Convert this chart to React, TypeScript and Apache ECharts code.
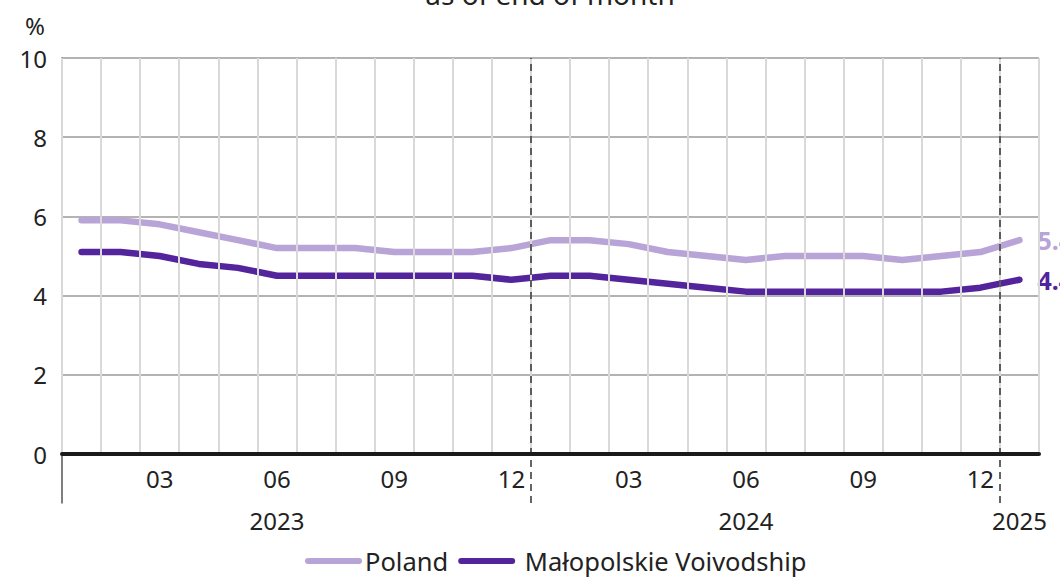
import React, { useEffect, useRef } from "react";
import * as echarts from "echarts";

const years = ["2023","2023","2023","2023","2023","2023","2023","2023","2023","2023","2023","2023","2024","2024","2024","2024","2024","2024","2024","2024","2024","2024","2024","2024","2025"];
const months = ["01","02","03","04","05","06","07","08","09","10","11","12","01","02","03","04","05","06","07","08","09","10","11","12","01"];
const poland = [5.9, 5.9, 5.8, 5.6, 5.4, 5.2, 5.2, 5.2, 5.1, 5.1, 5.1, 5.2, 5.4, 5.4, 5.3, 5.1, 5.0, 4.9, 5.0, 5.0, 5.0, 4.9, 5.0, 5.1, 5.4];
const malopolska = [5.1, 5.1, 5.0, 4.8, 4.7, 4.5, 4.5, 4.5, 4.5, 4.5, 4.5, 4.4, 4.5, 4.5, 4.4, 4.3, 4.2, 4.1, 4.1, 4.1, 4.1, 4.1, 4.1, 4.2, 4.4];
const seriesNames = ["Poland", "Małopolskie Voivodship"];
const yTicks = { min: 0, max: 10, interval: 2 };
const titleText = "as of end of month";
const unitText = "%";

const FONT = "Noto Sans";
const C_POL = "#b8a4d6";
const C_MAL = "#53249b";

export default function App() {
  const ref = useRef<HTMLDivElement>(null);
  useEffect(() => {
    if (!ref.current) return;
    const chart = echarts.init(ref.current, null, { renderer: "svg" });
    const cats = months.map((m, i) => years[i] + "-" + m);
    // year label placed at June of each year, or the only month of a partial year
    const yearLabels = years.map((y, i) => {
      const idxs = years.map((yy, j) => (yy === y ? j : -1)).filter((j) => j >= 0);
      const pos = idxs.length >= 6 ? idxs[5] : idxs[0];
      return pos === i ? y : "";
    });
    const boundaries: number[] = [];
    for (let i = 1; i < years.length; i++) if (years[i] !== years[i - 1]) boundaries.push(i);

    const icon = "path://M3,0 H54 A3,3 0 0 1 54,6 H3 A3,3 0 0 1 3,0 Z";
    const endLabel = (color: string) => ({
      show: true,
      formatter: (p: any) => Number(p.value).toFixed(1),
      color,
      fontWeight: "bold",
      fontSize: 25,
      fontFamily: FONT,
      distance: 18,
    });

    chart.setOption({
      animation: false,
      textStyle: { fontFamily: FONT },
      graphic: [
        { type: "text", x: 550, y: -6, style: { text: titleText, fontSize: 28, fontFamily: FONT, fill: "#222", textAlign: "center", textVerticalAlign: "middle" } },
        { type: "text", x: 35, y: 25, style: { text: unitText, fontSize: 24, fontFamily: FONT, fill: "#222", textAlign: "center", textVerticalAlign: "middle" } },
      ],
      legend: {
        data: seriesNames,
        left: 305,
        top: 548,
        padding: 0,
        itemWidth: 57,
        itemHeight: 7,
        itemGap: 10,
        icon,
        formatter: (name: string) => (name === seriesNames[0] ? name : " " + name),
        textStyle: { fontSize: 25.5, color: "#222", fontFamily: FONT, padding: [0, 0, 0, -2] },
      },
      grid: [
        { left: 62, right: 21, top: 58, bottom: 124 },
        { left: 62, right: 21, top: 58, bottom: 75 },
      ],
      xAxis: [
        {
          type: "category",
          gridIndex: 0,
          data: cats,
          boundaryGap: true,
          axisLine: { lineStyle: { color: "#1a1a1a", width: 4 } },
          axisTick: { show: false },
          axisLabel: {
            interval: (i: number) => i % 3 === 2 && i < cats.length - 1,
            formatter: (v: string) => v.slice(5),
            fontSize: 24,
            color: "#222",
            margin: 12,
            fontFamily: FONT,
          },
          splitLine: { show: true, interval: 0, lineStyle: { color: "#d9d9d9", width: 2 } },
          z: 5,
        },
        {
          type: "category",
          gridIndex: 0,
          data: yearLabels,
          position: "bottom",
          offset: 42,
          axisLine: { show: false },
          axisTick: { show: false },
          splitLine: { show: false },
          axisLabel: { interval: 0, fontSize: 24, color: "#222", margin: 12, fontFamily: FONT },
        },
        { type: "value", gridIndex: 1, min: 0, max: years.length, show: false },
      ],
      yAxis: [
        {
          type: "value",
          gridIndex: 0,
          min: yTicks.min,
          max: yTicks.max,
          interval: yTicks.interval,
          axisLine: { show: false },
          axisTick: { show: false },
          axisLabel: { fontSize: 24, color: "#222", margin: 15, fontFamily: FONT },
          splitLine: { lineStyle: { color: "#9a9a9a", width: 1.5 } },
        },
        {
          type: "value",
          gridIndex: 1,
          min: 0,
          max: 1,
          axisLine: { show: true, lineStyle: { color: "#555", width: 1.5 } },
          axisTick: { show: false },
          axisLabel: { show: false },
          splitLine: { show: false },
        },
      ],
      series: [
        {
          name: seriesNames[0],
          type: "line",
          xAxisIndex: 0,
          yAxisIndex: 0,
          data: poland,
          color: C_POL,
          symbol: "none",
          lineStyle: { color: C_POL, width: 6.5, cap: "round", join: "round" },
          endLabel: endLabel(C_POL),
          z: 3,
        },
        {
          name: seriesNames[1],
          type: "line",
          xAxisIndex: 0,
          yAxisIndex: 0,
          data: malopolska,
          color: C_MAL,
          symbol: "none",
          lineStyle: { color: C_MAL, width: 6.5, cap: "round", join: "round" },
          endLabel: endLabel(C_MAL),
          z: 3,
        },
        {
          name: "boundaries",
          type: "line",
          xAxisIndex: 2,
          yAxisIndex: 1,
          data: [],
          markLine: {
            silent: true,
            symbol: ["none", "none"],
            label: { show: false },
            lineStyle: { type: [7, 5], color: "#333", width: 1.5 },
            data: boundaries.map((b) => ({ xAxis: b })),
          },
          z: 6,
        },
      ],
    });
    return () => chart.dispose();
  }, []);
  return <div ref={ref} style={{ width: 1060, height: 578, position: "absolute", left: 0, top: 0 }} />;
}
